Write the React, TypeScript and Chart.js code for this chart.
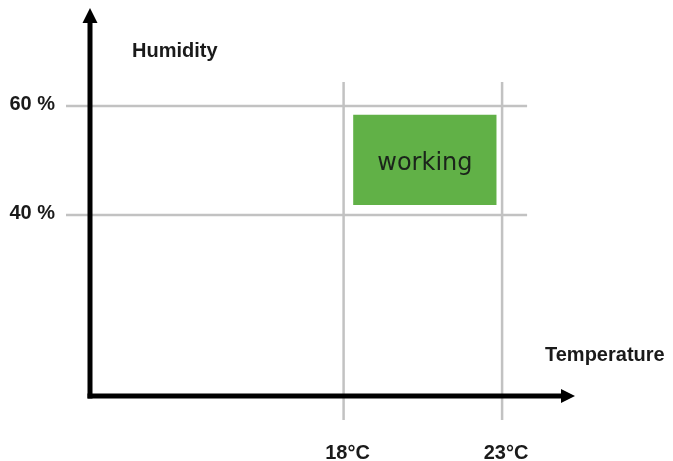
import { useEffect, useRef } from "react";
import { Chart, registerables } from "chart.js";

Chart.register(...registerables);

// ---- data ----
const temperatureTicks = [18, 23];
const humidityTicks = [40, 60];
const temperatureRange = [10, 25.3];
const humidityRange = [6.8, 78];
const workingTemperature = [18.3, 22.83];
const workingHumidity = [41.85, 58.4];
const xTitle = "Temperature";
const yTitle = "Humidity";
const zoneLabel = "working";

export default function App() {
  const ref = useRef<HTMLCanvasElement>(null);

  useEffect(() => {
    document.body.style.margin = "0";
    document.body.style.overflow = "hidden";
    const canvas = ref.current!;
    const labelFont = {
      family: "'Liberation Sans', Arial, sans-serif",
      size: 20,
      weight: "bold" as const,
    };
    const textColor = "#1a1a1a";

    const decor = {
      id: "decor",
      beforeDatasetsDraw(chart: any) {
        const { ctx, chartArea, scales } = chart;
        const x = scales.x;
        const y = scales.y;
        ctx.save();
        ctx.strokeStyle = "#c2c2c2";
        ctx.lineWidth = 2.5;
        const xr = x.getPixelForValue(temperatureTicks[temperatureTicks.length - 1]) + 25;
        humidityTicks.forEach((v) => {
          const py = y.getPixelForValue(v);
          ctx.beginPath();
          ctx.moveTo(chartArea.left - 24, py);
          ctx.lineTo(xr, py);
          ctx.stroke();
        });
        const yt = y.getPixelForValue(humidityTicks[humidityTicks.length - 1]) - 24;
        temperatureTicks.forEach((v) => {
          const px = x.getPixelForValue(v);
          ctx.beginPath();
          ctx.moveTo(px, yt);
          ctx.lineTo(px, chartArea.bottom + 24);
          ctx.stroke();
        });
        ctx.restore();
      },
      afterDatasetsDraw(chart: any) {
        const { ctx, chartArea, scales } = chart;
        const x = scales.x;
        const y = scales.y;
        const { left, right, top, bottom } = chartArea;
        ctx.save();

        // zone label
        const cx = x.getPixelForValue((workingTemperature[0] + workingTemperature[1]) / 2);
        const cy = y.getPixelForValue((workingHumidity[0] + workingHumidity[1]) / 2);
        ctx.fillStyle = "#1b241b";
        ctx.font = "24px 'DejaVu Sans', Verdana, sans-serif";
        ctx.textAlign = "center";
        ctx.textBaseline = "alphabetic";
        ctx.fillText(zoneLabel, cx, cy + 10);

        // axes with arrows
        ctx.strokeStyle = "#000";
        ctx.fillStyle = "#000";
        ctx.lineWidth = 5;
        ctx.lineCap = "butt";
        ctx.beginPath();
        ctx.moveTo(left, bottom + 2.5);
        ctx.lineTo(left, top + 14);
        ctx.stroke();
        ctx.beginPath();
        ctx.moveTo(left - 2.5, bottom);
        ctx.lineTo(right - 13, bottom);
        ctx.stroke();
        ctx.beginPath();
        ctx.moveTo(left, top);
        ctx.lineTo(left + 7.5, top + 15);
        ctx.lineTo(left - 7.5, top + 15);
        ctx.closePath();
        ctx.fill();
        ctx.beginPath();
        ctx.moveTo(right, bottom);
        ctx.lineTo(right - 14, bottom - 7);
        ctx.lineTo(right - 14, bottom + 7);
        ctx.closePath();
        ctx.fill();

        // axis titles
        ctx.fillStyle = textColor;
        ctx.font = "bold 20px 'Liberation Sans', Arial, sans-serif";
        ctx.textAlign = "left";
        ctx.textBaseline = "alphabetic";
        ctx.fillText(yTitle, left + 42, top + 49);
        ctx.fillText(xTitle, right - 30, bottom - 35);
        ctx.restore();
      },
    };

    const chart = new Chart(canvas, {
      type: "line",
      data: {
        datasets: [
          {
            data: workingTemperature.map((t) => ({ x: t, y: workingHumidity[1] })),
            borderWidth: 0,
            borderColor: "rgba(0,0,0,0)",
            pointRadius: 0,
            backgroundColor: "#61b147",
            fill: "+1",
            tension: 0,
          },
          {
            data: workingTemperature.map((t) => ({ x: t, y: workingHumidity[0] })),
            borderWidth: 0,
            borderColor: "rgba(0,0,0,0)",
            pointRadius: 0,
            fill: false,
            tension: 0,
          },
        ],
      },
      options: {
        responsive: false,
        animation: false,
        devicePixelRatio: 1,
        layout: { padding: { left: 0, top: 8, right: 98, bottom: 0 } },
        plugins: {
          legend: { display: false },
          tooltip: { enabled: false },
        },
        events: [],
        scales: {
          x: {
            type: "linear",
            min: temperatureRange[0],
            max: temperatureRange[1],
            grid: { display: false, drawTicks: false, tickLength: 0 },
            border: { display: false },
            afterBuildTicks: (s: any) => {
              s.ticks = temperatureTicks.map((v) => ({ value: v }));
            },
            afterFit: (s: any) => {
              s.height = 65;
              s.paddingLeft = 0;
              s.paddingRight = 0;
              s.paddingTop = 0;
              s.paddingBottom = 0;
            },
            ticks: {
              callback: (v: any) => `${v}°C`,
              font: labelFont,
              color: textColor,
              padding: 45,
              labelOffset: 4,
              autoSkip: false,
              maxRotation: 0,
            },
          },
          y: {
            type: "linear",
            min: humidityRange[0],
            max: humidityRange[1],
            grid: { display: false, drawTicks: false, tickLength: 0 },
            border: { display: false },
            afterBuildTicks: (s: any) => {
              s.ticks = humidityTicks.map((v) => ({ value: v }));
            },
            afterFit: (s: any) => {
              s.width = 90;
              s.paddingLeft = 0;
              s.paddingRight = 0;
              s.paddingTop = 0;
              s.paddingBottom = 0;
            },
            ticks: {
              callback: (v: any) => `${v} %`,
              font: labelFont,
              color: textColor,
              padding: 35,
              labelOffset: -2,
              autoSkip: false,
            },
          },
        },
      },
      plugins: [decor],
    });

    return () => chart.destroy();
  }, []);

  return (
    <canvas
      ref={ref}
      width={673}
      height={461}
      style={{ display: "block", width: 673, height: 461 }}
    />
  );
}
